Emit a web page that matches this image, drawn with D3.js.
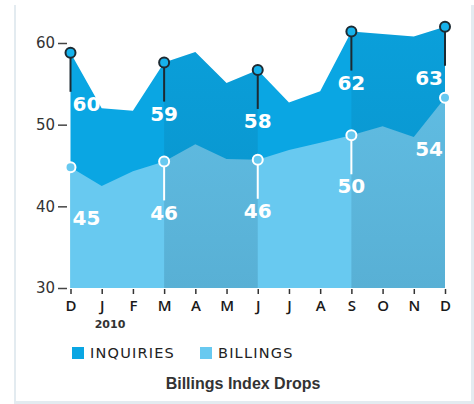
<!DOCTYPE html>
<html>
<head>
<meta charset="utf-8">
<script src="https://cdn.jsdelivr.net/npm/d3@7"></script>
<style>
  body { margin: 0; background: #fff; }
</style>
</head>
<body>
<div class="box"></div>
<script>
// DATA
const months = ['D', 'J', 'F', 'M', 'A', 'M', 'J', 'J', 'A', 'S', 'O', 'N', 'D'];
const inquiries = [58.8, 52.0, 51.7, 57.6, 58.9, 55.1, 56.7, 52.7, 54.1, 61.4, 61.1, 60.8, 62.0];
const billings = [44.8, 42.5, 44.3, 45.5, 47.6, 45.8, 45.7, 46.9, 47.8, 48.7, 49.8, 48.5, 53.3];
const markIdx = [0, 3, 6, 9, 12];           // months that get a callout
const inquiryLabels = ['60', '59', '58', '62', '63'];
const billingLabels = ['45', '46', '46', '50', '54'];
const yTicks = [30, 40, 50, 60];
const shadeBands = [[3, 6], [9, 12]];       // darker quarters (index from, index to)
const legendItems = ['INQUIRIES', 'BILLINGS'];
const title = 'Billings Index Drops';

// SETUP
const width = 474, height = 404;
const colInq = '#0aa6e3', colBill = '#68c9f0';

const svg = d3.select('.box')
              .append('svg')
              .attr('width', width)
              .attr('height', height);

// light frame round the card
svg.append('rect').attr('x', 14).attr('y', 5).attr('width', 2).attr('height', 399).attr('fill', '#e3ebf0');
svg.append('rect').attr('x', 471).attr('y', 5).attr('width', 3).attr('height', 399).attr('fill', '#e3ebf0');
svg.append('rect').attr('x', 14).attr('y', 401).attr('width', 460).attr('height', 3).attr('fill', '#e3ebf0');

const x = d3.scaleLinear().domain([0, months.length - 1]).range([70.5, 445]);
const y = d3.scaleLinear().domain([30, 60]).range([288, 43]);

const defs = svg.append('defs');
const grad = defs.append('linearGradient').attr('id', 'shade')
                 .attr('x1', 0).attr('y1', 0).attr('x2', 0).attr('y2', 1);
grad.append('stop').attr('offset', '0%').attr('stop-color', '#0b3550').attr('stop-opacity', 0.06);
grad.append('stop').attr('offset', '100%').attr('stop-color', '#0b3550').attr('stop-opacity', 0.17);

const areaInq = d3.area().x((d, i) => x(i)).y0(y(30)).y1(d => y(d));

defs.append('clipPath').attr('id', 'inqClip')
    .append('path').attr('d', areaInq(inquiries));

// areas
svg.append('path').attr('d', areaInq(inquiries)).attr('fill', colInq);
svg.append('path').attr('d', areaInq(billings)).attr('fill', colBill);

// darker quarters
svg.append('g').attr('clip-path', 'url(#inqClip)')
   .selectAll('rect').data(shadeBands).enter()
   .append('rect')
   .attr('x', d => x(d[0]))
   .attr('width', d => x(d[1]) - x(d[0]))
   .attr('y', y(62))
   .attr('height', y(30) - y(62))
   .attr('fill', 'url(#shade)');

// axes
const axX = d3.axisBottom(x).tickValues(d3.range(months.length))
              .tickFormat(i => months[i]).tickSize(5).tickPadding(6);
const gx = svg.append('g').attr('transform', `translate(0, ${y(30) + 1})`).call(axX);
gx.select('.domain').remove();
gx.selectAll('line').attr('stroke', '#333').attr('stroke-width', 1.5);
gx.selectAll('text').attr('fill', '#1a1a1a')
  .style('font-family', 'Open Sans').style('font-weight', 600).style('font-size', '15px');

const axY = d3.axisLeft(y).tickValues(yTicks).tickSize(9).tickPadding(3);
const gy = svg.append('g').attr('transform', 'translate(67, 0)').call(axY);
gy.select('.domain').remove();
gy.selectAll('line').attr('stroke', '#444').attr('stroke-width', 1.5);
gy.selectAll('text').attr('fill', '#333')
  .style('font-family', 'DejaVu Sans').style('font-size', '15px');

svg.append('text').text('2010')
   .attr('x', x(1) - 7).attr('y', 328)
   .attr('fill', '#333')
   .style('font-family', 'DejaVu Sans').style('font-size', '11px').style('font-weight', 600);

// callouts
const anchor = i => i === 0 ? 'start' : (i === months.length - 1 ? 'end' : 'middle');
const labelX = i => i === 0 ? x(i) + 2 : (i === months.length - 1 ? x(i) - 2 : x(i));

function callouts(values, labels, stemCol, markFill, markStroke, stemFor) {
  const g = svg.append('g');
  g.selectAll('line').data(markIdx.filter(stemFor)).enter()
   .append('line')
   .attr('x1', i => x(i)).attr('x2', i => x(i))
   .attr('y1', i => y(values[i])).attr('y2', i => y(values[i]) + 39)
   .attr('stroke', stemCol).attr('stroke-width', 2);
  g.selectAll('circle').data(markIdx).enter()
   .append('circle')
   .attr('cx', i => x(i)).attr('cy', i => y(values[i])).attr('r', 5)
   .attr('fill', markFill).attr('stroke', markStroke).attr('stroke-width', 2);
  g.selectAll('text').data(markIdx).enter()
   .append('text')
   .text((i, k) => labels[k])
   .attr('x', i => labelX(i)).attr('y', i => y(values[i]) + 51)
   .attr('dy', '0.36em')
   .attr('text-anchor', i => anchor(i))
   .attr('fill', '#fff')
   .style('font-family', 'DejaVu Sans').style('font-weight', 'bold').style('font-size', '20px');
}

callouts(inquiries, inquiryLabels, '#1d2a32', '#16b2ec', '#1d2a32', () => true);
callouts(billings, billingLabels, '#fff', colBill, '#fff', i => i !== 0 && i !== months.length - 1);

// legend
const legend = svg.append('g').attr('transform', 'translate(72, 347)');
const item = legend.selectAll('g').data(legendItems).enter()
                   .append('g').attr('transform', (d, i) => `translate(${i * 128}, 0)`);
item.append('rect').attr('width', 12).attr('height', 12)
    .attr('fill', (d, i) => i === 0 ? colInq : colBill);
item.append('text').text(d => d)
    .attr('x', 18).attr('y', 6).attr('dy', '0.36em')
    .attr('fill', '#222')
    .style('font-family', 'DejaVu Sans').style('font-size', '14.5px')
    .style('letter-spacing', '1.2px');

// title
svg.append('text').text(title)
   .attr('x', 243).attr('y', 389)
   .attr('text-anchor', 'middle')
   .attr('fill', '#333')
   .style('font-family', 'Liberation Sans').style('font-weight', 'bold').style('font-size', '16px');
</script>
</body>
</html>
